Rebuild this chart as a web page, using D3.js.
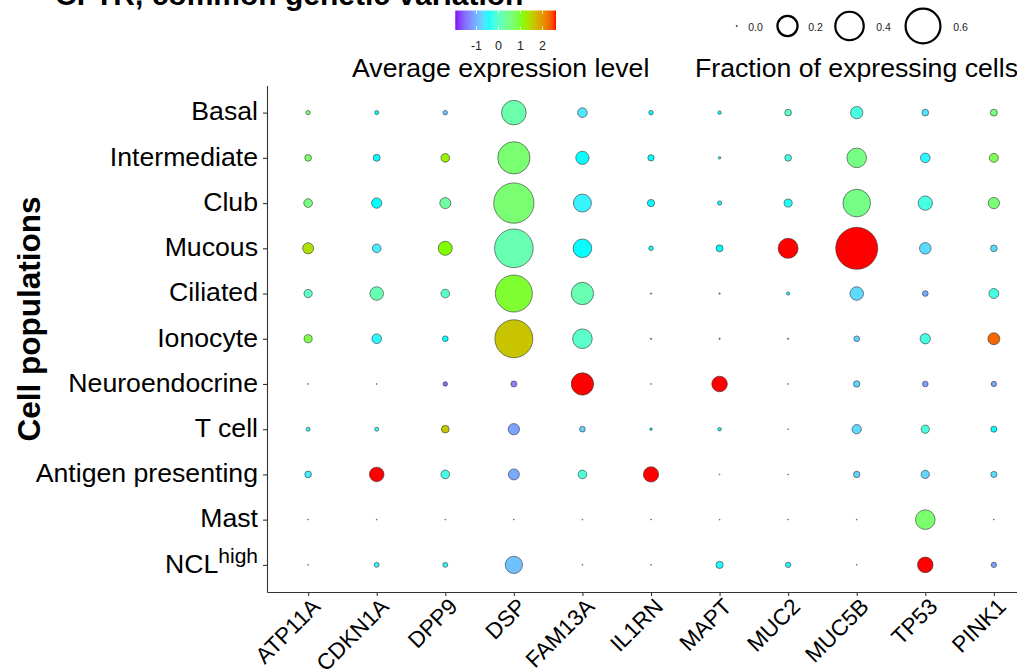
<!DOCTYPE html>
<html>
<head>
<meta charset="utf-8">
<script src="https://cdn.jsdelivr.net/npm/d3@7"></script>
<style>
  html, body { margin: 0; padding: 0; background: #fff; }
  svg { display: block; font-family: "Liberation Sans", Arial, sans-serif; }
</style>
</head>
<body>
<svg id="chart" width="1017" height="672"></svg>
<script>
// Genes on the x axis
const genes = ["ATP11A", "CDKN1A", "DPP9", "DSP", "FAM13A", "IL1RN", "MAPT", "MUC2", "MUC5B", "TP53", "PINK1"];
// Cell populations on the y axis (top to bottom)
const cellTypes = ["Basal", "Intermediate", "Club", "Mucous", "Ciliated", "Ionocyte",
  "Neuroendocrine", "T cell", "Antigen presenting", "Mast", "NCL"];

// Fraction of expressing cells, one row per cell population, columns follow `genes`
const fractionExpressing = [
  [0.009, 0.008, 0.010, 0.299, 0.046, 0.010, 0.006, 0.022, 0.075, 0.022, 0.024],
  [0.022, 0.024, 0.037, 0.515, 0.087, 0.020, 0.003, 0.022, 0.190, 0.046, 0.040],
  [0.037, 0.052, 0.060, 0.802, 0.160, 0.026, 0.009, 0.032, 0.376, 0.101, 0.063],
  [0.060, 0.037, 0.097, 0.736, 0.171, 0.010, 0.024, 0.198, 0.871, 0.066, 0.022],
  [0.034, 0.091, 0.037, 0.676, 0.246, 0.001, 0.001, 0.005, 0.091, 0.016, 0.049],
  [0.032, 0.046, 0.016, 0.713, 0.190, 0.001, 0.001, 0.001, 0.016, 0.052, 0.071],
  [0.0004, 0.0004, 0.010, 0.018, 0.246, 0.0004, 0.120, 0.0004, 0.020, 0.016, 0.014],
  [0.008, 0.008, 0.029, 0.063, 0.016, 0.003, 0.006, 0.0004, 0.043, 0.034, 0.018],
  [0.022, 0.105, 0.037, 0.060, 0.037, 0.116, 0.0004, 0.0004, 0.020, 0.034, 0.018],
  [0.0004, 0.0004, 0.0004, 0.0004, 0.0004, 0.0004, 0.0004, 0.0004, 0.0004, 0.190, 0.0004],
  [0.0004, 0.012, 0.012, 0.148, 0.0004, 0.0004, 0.026, 0.014, 0.0004, 0.120, 0.014]
];

// Scaled average expression, same layout as above
const avgExpression = [
  [0.67, -0.44, -0.90, 0.21, -0.63, -0.44, -0.44, -0.07, -0.21, -0.63, 0.53],
  [0.67, -0.44, 1.23, 0.63, -0.44, -0.44, -0.44, -0.25, 0.49, -0.49, 0.81],
  [0.53, -0.44, 0.30, 0.63, -0.53, -0.44, -0.44, -0.39, 0.49, -0.21, 0.63],
  [1.39, -0.58, 1.09, 0.16, -0.44, -0.44, -0.44, 2.61, 2.61, -0.72, -0.72],
  [0.02, 0.16, -0.02, 0.98, 0.16, -0.44, -0.44, -0.44, -0.72, -1.09, -0.21],
  [0.90, -0.49, -0.44, 1.62, -0.02, -0.44, -0.44, -0.44, -0.76, -0.21, 2.30],
  [-1.37, -1.37, -1.55, -1.37, 2.61, -0.44, 2.61, -0.44, -0.76, -1.14, -1.14],
  [-0.53, -0.53, 1.60, -1.14, -0.81, -0.44, -0.44, -0.44, -0.72, -0.16, -0.44],
  [-0.58, 2.61, -0.21, -1.09, -0.16, 2.61, -0.44, -0.44, -0.76, -0.76, -0.67],
  [-0.44, -0.44, -0.44, -0.44, -0.44, -0.44, -0.44, -0.44, -0.44, 0.67, -0.44],
  [-0.44, -0.49, -0.49, -0.90, -0.44, -0.44, -0.39, -0.39, -0.44, 2.61, -1.18]
];

// Legend breaks
const colorBreaks = [-1, 0, 1, 2];
const sizeBreaks = [0.0, 0.2, 0.4, 0.6];
const colorLimits = [-1.96, 2.61];
const rainbowColors = ["#8000FF", "#00FFFF", "#80FF00", "#FF0000"];

const svg = d3.select("#chart");
const FONT = 26.67;

// Panel geometry (the panel runs past the right edge of the page)
const panel = { left: 267, right: 1035, top: 85.5, bottom: 592 };

const x = d3.scalePoint().domain(genes).range([panel.left, panel.right]).padding(0.6);
const y = d3.scalePoint().domain(cellTypes).range([panel.top, panel.bottom]).padding(0.6);
const r = d3.scaleSqrt().domain([0, 1]).range([0, 22.5]);

const colorStops = d3.range(rainbowColors.length).map(i =>
  colorLimits[0] + (colorLimits[1] - colorLimits[0]) * i / (rainbowColors.length - 1));
const color = d3.scaleLinear().domain(colorStops).range(rainbowColors)
  .interpolate(d3.interpolateLab).clamp(true);

// Points
const points = [];
cellTypes.forEach((c, i) => genes.forEach((g, j) => {
  points.push({ cell: c, gene: g, frac: fractionExpressing[i][j], expr: avgExpression[i][j] });
}));

svg.append("g").selectAll("circle").data(points).join("circle")
  .attr("cx", d => x(d.gene))
  .attr("cy", d => y(d.cell))
  .attr("r", d => r(d.frac))
  .attr("fill", d => color(d.expr))
  .attr("stroke", "#333")
  .attr("stroke-width", 0.6);

// Axes
const axisColor = "#333";
const xAxis = svg.append("g").attr("transform", `translate(0,${panel.bottom})`)
  .call(d3.axisBottom(x).tickSize(4).tickSizeOuter(0).tickFormat(""));
const yAxis = svg.append("g").attr("transform", `translate(${panel.left},0)`)
  .call(d3.axisLeft(y).tickSize(4).tickSizeOuter(0).tickFormat(""));
[xAxis, yAxis].forEach(a => {
  a.select(".domain").attr("stroke", axisColor).attr("stroke-width", 1.1);
  a.selectAll(".tick line").attr("stroke", axisColor).attr("stroke-width", 1.1);
});

// y tick labels
const yLabels = svg.append("g").attr("font-size", FONT).attr("fill", "#000").attr("text-anchor", "end");
cellTypes.forEach(c => {
  const t = yLabels.append("text").attr("x", panel.left - 9).attr("y", y(c) - 1.5).attr("dy", "0.35em");
  if (c === "NCL") {
    t.append("tspan").text("NCL");
    t.append("tspan").attr("font-size", 21).attr("dy", "-0.45em").text("high");
  } else {
    t.text(c);
  }
});

// x tick labels, rotated 45 degrees
svg.append("g").selectAll("text").data(genes).join("text")
  .attr("font-size", 22.5)
  .attr("text-anchor", "end")
  .attr("transform", d => `translate(${x(d) + 13.5},${panel.bottom + 16}) rotate(-45)`)
  .text(d => d);

// y axis title
svg.append("text")
  .attr("transform", "translate(40,319) rotate(-90)")
  .attr("text-anchor", "middle")
  .attr("font-size", 31.5).attr("font-weight", "bold")
  .text("Cell populations");

// Plot title
svg.append("text")
  .attr("x", 55).attr("y", 5)
  .attr("font-size", 30).attr("font-weight", "bold")
  .text("CFTR, common genetic variation");

// Colour legend
const bar = { x0: 455.3, x1: 556, y0: 10.5, y1: 30 };
const barScale = d3.scaleLinear().domain(colorLimits).range([bar.x0, bar.x1]);
const defs = svg.append("defs");
const grad = defs.append("linearGradient").attr("id", "exprGrad");
d3.range(0, 1.0001, 0.02).forEach(t => {
  grad.append("stop").attr("offset", t)
    .attr("stop-color", color(colorLimits[0] + t * (colorLimits[1] - colorLimits[0])));
});
svg.append("rect").attr("x", bar.x0).attr("y", bar.y0)
  .attr("width", bar.x1 - bar.x0).attr("height", bar.y1 - bar.y0)
  .attr("fill", "url(#exprGrad)");
const cbTicks = svg.append("g");
colorBreaks.forEach(b => {
  const bx = barScale(b);
  cbTicks.append("line").attr("x1", bx).attr("x2", bx).attr("y1", bar.y0).attr("y2", bar.y0 + 3.5)
    .attr("stroke", "#fff").attr("stroke-width", 0.8);
  cbTicks.append("line").attr("x1", bx).attr("x2", bx).attr("y1", bar.y1 - 3.5).attr("y2", bar.y1)
    .attr("stroke", "#fff").attr("stroke-width", 0.8);
  cbTicks.append("text").attr("x", bx).attr("y", 49.5).attr("text-anchor", "middle")
    .attr("font-size", 12.5).attr("fill", "#222").text(b < 0 ? "-" + Math.abs(b) : b);
});
svg.append("text").attr("x", 352).attr("y", 76.5).attr("font-size", FONT)
  .text("Average expression level");

// Size legend
const sizeX = [736.7, 787.5, 849.5, 923];
const sizeLabelX = [755.5, 815.5, 883.5, 960.5];
const sizeLeg = svg.append("g");
sizeBreaks.forEach((s, i) => {
  sizeLeg.append("circle").attr("cx", sizeX[i]).attr("cy", 26)
    .attr("r", Math.max(r(s), 0.6))
    .attr("fill", "#fff").attr("stroke", "#000")
    .attr("stroke-width", s === 0 ? 0.8 : 2.2);
  sizeLeg.append("text").attr("x", sizeLabelX[i]).attr("y", 30.5)
    .attr("text-anchor", "middle").attr("font-size", 10.5).attr("fill", "#222")
    .text(s.toFixed(1));
});
svg.append("text").attr("x", 695).attr("y", 76.5).attr("font-size", FONT)
  .text("Fraction of expressing cells");
</script>
</body>
</html>
